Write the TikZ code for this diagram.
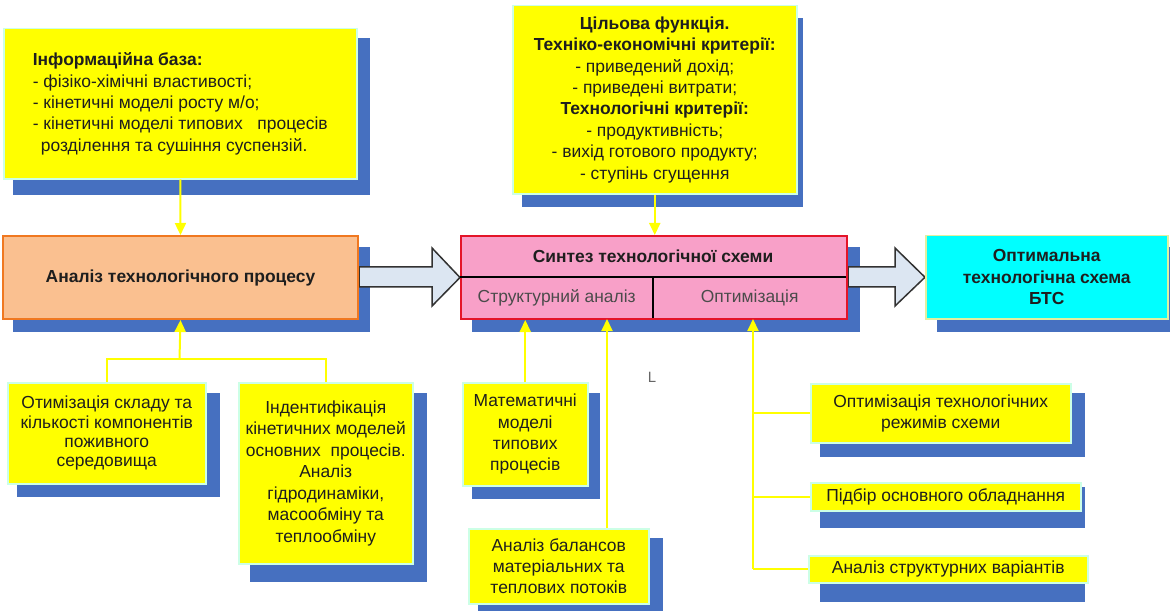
\documentclass[tikz,border=0pt]{standalone}
\usepackage{fontspec}
\setmainfont{Liberation Sans}
\usetikzlibrary{arrows.meta}
\definecolor{yfill}{RGB}{255,255,0}
\definecolor{ydraw}{RGB}{204,255,230}
\definecolor{shadowc}{RGB}{70,112,192}
\definecolor{ofill}{RGB}{250,192,144}
\definecolor{odraw}{RGB}{240,120,32}
\definecolor{pfill}{RGB}{248,160,200}
\definecolor{pdraw}{RGB}{228,20,40}
\definecolor{cfill}{RGB}{0,255,255}
\definecolor{cdraw}{RGB}{224,240,160}
\definecolor{afill}{RGB}{220,230,242}
\definecolor{adraw}{RGB}{50,50,50}
\definecolor{yline}{RGB}{255,255,0}
\definecolor{txt}{RGB}{30,30,30}
\pgfdeclarelayer{shad}
\pgfdeclarelayer{arr}
\pgfsetlayers{shad,arr,main}
\newcommand\shbox[4]{\fill[shadowc] (#1,#2) rectangle (#3,#4);}
\begin{document}
\begin{tikzpicture}[x=1bp,y=-1bp,
  every node/.style={font=\fontsize{17.5}{21.5}\selectfont, text=txt, inner sep=0pt},
  box/.style={anchor=north west, line width=1.5bp, align=center},
  ybox/.style={box, fill=yfill, draw=ydraw},
  obox/.style={box, fill=ofill, draw=odraw, line width=2bp},
  pbox/.style={box, fill=pfill, draw=pdraw, line width=2bp},
  cbox/.style={box, fill=cfill, draw=cdraw},
  conn/.style={draw=yline, line width=2bp},
  tip/.style={-{Triangle[width=11bp,length=12bp]}},
  barrow/.style={fill=afill, draw=adraw, line width=1.5bp, line join=miter},
  divider/.style={draw=black, line width=2bp}
]
\useasboundingbox (0,0) rectangle (1170,611);
\begin{pgfonlayer}{shad}
\fill[white] (0,0) rectangle (1170,611);
\shbox{13}{38}{370}{195}
\shbox{522}{18}{803}{207}
\shbox{13}{247}{370}{332}
\shbox{472}{247}{860}{332}
\shbox{937}{247}{1170}{332}
\shbox{17}{393}{220}{497}
\shbox{250}{393}{427}{582}
\shbox{472}{393}{600}{499}
\shbox{478}{538}{663}{611}
\shbox{820}{393}{1085}{457}
\shbox{820}{487}{1085}{528}
\shbox{820}{565}{1085}{602}
\end{pgfonlayer}

\node[ybox, minimum width=353bp, minimum height=150bp, align=left] (info) at (3,28)
  {\textbf{Інформаційна база:}\\- фізіко-хімічні властивості;\\- кінетичні моделі росту м/о;\\- кінетичні моделі типових \ \ процесів\\\hspace*{8bp}розділення та сушіння суспензій.};
\node[ybox, minimum width=284bp, minimum height=188bp] (goal) at (512,5)
  {\textbf{Цільова функція.}\\\textbf{Техніко-економічні критерії:}\\- приведений дохід;\\- приведені витрати;\\\textbf{Технологічні критерії:}\\- продуктивність;\\- вихід готового продукту;\\- ступінь сгущення};
\node[obox, minimum width=355bp, minimum height=83bp] (anal) at (2,235)
  {\textbf{Аналіз технологічного процесу}};
\node[pbox, minimum width=386bp, minimum height=83bp] (synth) at (460,235) {};
\node (synthtitle) at (653,256) {\textbf{Синтез технологічної схеми}};
\node[anchor=north west, minimum width=193bp, minimum height=41bp, text=txt!80] (struct) at (460,277) {Структурний аналіз};
\node[anchor=north west, minimum width=193bp, minimum height=41bp, text=txt!80] (optim) at (653,277) {Оптимізація};
\draw[divider] (struct.north west) -- (optim.north east);
\draw[divider] (struct.north east) -- (struct.south east);
\node[cbox, minimum width=242bp, minimum height=83bp] (opt) at (925,235)
  {\textbf{Оптимальна}\\\textbf{технологічна схема}\\\textbf{БТС}};

\node[ybox, minimum width=198bp, minimum height=101bp, font=\fontsize{17.5}{19.5}\selectfont] (b6) at (7,382)
  {Отимізація складу та\\кількості компонентів\\поживного\\середовища};
\node[ybox, minimum width=174bp, minimum height=181bp] (b7) at (238,382)
  {Індентифікація\\кінетичних моделей\\основних \ процесів.\\Аналіз\\гідродинаміки,\\масообміну та\\теплообміну};
\node[ybox, minimum width=125bp, minimum height=103bp] (b8) at (462,382)
  {Математичні\\моделі\\типових\\процесів};
\node[ybox, minimum width=180bp, minimum height=75bp] (b9) at (468,528)
  {Аналіз балансов\\матеріальних та\\теплових потоків};
\node[ybox, minimum width=260bp, minimum height=59bp] (b10) at (810,383)
  {Оптимізація технологічних\\режимів схеми};
\node[ybox, minimum width=270bp, minimum height=28bp] (b11) at (810,482)
  {Підбір основного обладнання};
\node[ybox, minimum width=279bp, minimum height=27bp] (b12) at (808,555)
  {Аналіз структурних варіантів};

\node[font=\fontsize{15}{15}\selectfont, text=black!60] (stray) at (652,377) {L};

\begin{pgfonlayer}{arr}
\draw[barrow] (anal.east |- 0,267) -- (432,267) -- (432,248) -- (synth.west) -- (432,306) -- (432,287) -- (anal.east |- 0,287) -- cycle;
\draw[barrow] (synth.east |- 0,267) -- (895,267) -- (895,248) -- (opt.west) -- (895,306) -- (895,287) -- (synth.east |- 0,287) -- cycle;
\end{pgfonlayer}

\draw[conn,tip] (info.south) -- (anal.north);
\draw[conn,tip] (goal.south) -- (goal.south |- synth.north);
\coordinate (lj) at (179.5,359);
\draw[conn] (b6.north) |- (lj) -| (b7.north);
\draw[conn,tip] (lj) -- (anal.south);
\draw[conn,tip] (b8.north) -- (b8.north |- synth.south);
\coordinate (j2) at (607,319);
\draw[conn,tip] (j2 |- b9.north) -- (j2);
\coordinate (j3) at (753,319);
\draw[conn] (j3 |- b10.west) -- (b10.west);
\draw[conn] (j3 |- b11.west) -- (b11.west);
\draw[conn] (j3 |- b12.west) -- (b12.west);
\draw[conn,tip] (j3 |- b12.west) -- (j3);
\end{tikzpicture}
\end{document}
